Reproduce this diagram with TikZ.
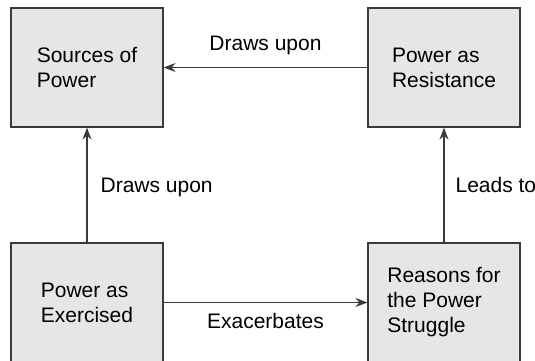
\documentclass[tikz,border=0pt]{standalone}
\usepackage{fontspec}
\setmainfont{Liberation Sans}
\usetikzlibrary{arrows.meta}
\definecolor{boxgray}{HTML}{E5E6E8}
\definecolor{linegray}{HTML}{3A3A3A}
\begin{document}
\begin{tikzpicture}[x=1pt,y=-1pt,
  box/.style={draw=linegray, fill=boxgray, line width=1.2pt,
    minimum width=152pt, minimum height=119pt, inner sep=0pt,
    align=left, font=\fontsize{21}{25}\selectfont},
  link/.style={draw=linegray, line width=1.2pt,
    -{Stealth[length=12pt,width=9pt,inset=4pt]}},
  lbl/.style={font=\fontsize{21}{25}\selectfont, inner sep=0pt}]
\useasboundingbox (0,0) rectangle (535,360);
\clip (0,0) rectangle (535,360);

% the four boxes
\node[box] (src) at (87,67.5)  {Sources of\\Power};
\node[box] (res) at (444,67.5) {Power as\\Resistance};
\node[box] (exe) at (87,302.5) {Power as\\Exercised};
\node[box] (rea) at (444,302.5) {Reasons for\\the Power\\Struggle};

% connectors with their labels
\draw[link] (res.west) -- (src.east)
  node[lbl, midway, anchor=base, yshift=17pt] {Draws upon};
\draw[link] (exe.north) -- (src.south)
  node[lbl, midway, anchor=base west, xshift=13pt, yshift=-7.5pt] {Draws upon};
\draw[link] (rea.north) -- (res.south)
  node[lbl, midway, anchor=base west, xshift=11pt, yshift=-7.5pt] {Leads to};
\draw[link] (exe.east) -- (rea.west)
  node[lbl, midway, anchor=base, yshift=-26pt] {Exacerbates};
\end{tikzpicture}
\end{document}
